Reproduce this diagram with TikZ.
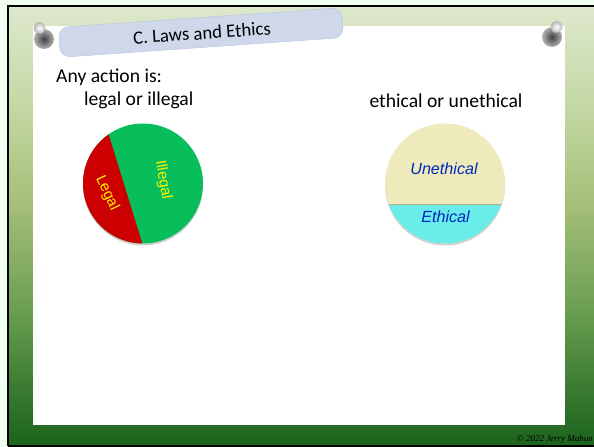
\documentclass[tikz,border=0pt]{standalone}
\usepackage{fontspec}
\setmainfont{Carlito}
\newfontfamily\arialfont{Liberation Sans}
\newfontfamily\timesfont{Liberation Serif}
\usepackage{tikz}
\usetikzlibrary{calc}
\definecolor{tabblue}{RGB}{207,216,234}
\definecolor{tabedge}{RGB}{182,196,224}
\definecolor{legalred}{RGB}{204,0,0}
\definecolor{illegalgreen}{RGB}{8,190,90}
\definecolor{unethicalcream}{RGB}{238,234,188}
\definecolor{ethicalcyan}{RGB}{106,236,232}
\definecolor{labelblue}{RGB}{0,40,190}
\pgfdeclareverticalshading{slideback}{100bp}{
  rgb(0bp)=(0.11,0.39,0.11);
  rgb(25bp)=(0.11,0.39,0.11);
  rgb(32bp)=(0.24,0.49,0.20);
  rgb(41bp)=(0.43,0.63,0.33);
  rgb(52.5bp)=(0.65,0.75,0.47);
  rgb(64bp)=(0.77,0.85,0.65);
  rgb(75bp)=(0.87,0.91,0.80);
  rgb(100bp)=(0.87,0.91,0.80)}
\tikzset{
  slidetext/.style={inner sep=0pt,font=\fontsize{19.7}{22}\selectfont},
  legalword/.style={inner sep=0pt,text=yellow,font=\arialfont\fontsize{15}{17}\selectfont},
  ethicword/.style={inner sep=0pt,text=labelblue,font=\arialfont\itshape\fontsize{16.2}{18}\selectfont},
  discshadow/.style={fill=black!18,draw=none},
  pinhead/.style={circle,inner sep=0pt,minimum size=11.5bp,inner color=white,outer color=black!28},
  pinbase/.style={circle,inner sep=0pt,minimum size=20bp,inner color=black!75,outer color=black!30},
  pinstem/.style={line width=8bp,draw=black!50},
}
\begin{document}
\begin{tikzpicture}[x=1bp,y=-1bp]
        \useasboundingbox (0,0) rectangle (594,447);
        % backdrop
        \fill[green!6!white] (0,0) rectangle (594,447);
        \path[shading=slideback,shading angle=0] (8,6) rectangle (594,445);
        \draw[line width=2.4bp] (8,446) -- (8,6) -- (594,6);
        \draw[line width=1.6bp] (8,446) -- (594,446);
        \fill[white] (33,26) rectangle (565,425);
        % pins
        \node[pinbase] (pinLbase) at (44,39) {};
        \node[pinhead] (pinLhead) at (39.5,28) {};
        \draw[pinstem] (pinLbase) -- (pinLhead);
        \node[pinhead] at (pinLhead) {};
        \node[pinbase] (pinRbase) at (552,37) {};
        \node[pinhead] (pinRhead) at (556.5,27) {};
        \draw[pinstem] (pinRbase) -- (pinRhead);
        \node[pinhead] at (pinRhead) {};
        % title
        \node[draw=tabedge,fill=tabblue,rounded corners=10bp,rotate=4,minimum width=284bp,minimum height=30bp,inner sep=0pt]
          (title) at (201,32.5) {};
        \node[inner sep=0pt,font=\fontsize{18.8}{21}\selectfont,rotate=4] (titletext) at (202,33) {C. Laws and Ethics};
        % text
        \node[slidetext,anchor=west] (anyaction) at (56,77) {Any action is:};
        \node[slidetext,anchor=west] (legalor) at (84,100) {legal or illegal};
        \node[slidetext] (ethicalor) at (446,101) {ethical or unethical};
        % legal disc
        \coordinate (legalc) at (143,183.5);
        \fill[discshadow] ($(legalc)+(0,2)$) circle (60);
        \fill[illegalgreen] (legalc) circle (60);
        \begin{scope}
          \clip (legalc) circle (60);
          \fill[legalred] (108.5,134) -- (142.5,244) -- (60,260) -- (60,110) -- cycle;
        \end{scope}
        \node[legalword,rotate=-65] (legal) at (107,193) {Legal};
        \node[legalword,rotate=-80] (illegal) at (163,180) {Illegal};
        % ethical disc
        \coordinate (ethicc) at (445,183.5);
        \fill[discshadow] ($(ethicc)+(0,2)$) circle (60);
        \fill[unethicalcream] (ethicc) circle (60);
        \begin{scope}
          \clip (ethicc) circle (60);
          \fill[ethicalcyan] (380,205) rectangle (510,250);
          \fill[black!25!unethicalcream] (380,204) rectangle (510,205.5);
        \end{scope}
        \node[ethicword] (unethical) at (444,169) {Unethical};
        \node[ethicword] (ethical) at (445.5,217) {Ethical};
        % copyright
        \node[inner sep=0pt,anchor=east,font=\timesfont\itshape\fontsize{9}{10}\selectfont] (copyright) at (593,439.5) {\textcopyright{} 2022 Jerry Mahun};
      \end{tikzpicture}
\end{document}
